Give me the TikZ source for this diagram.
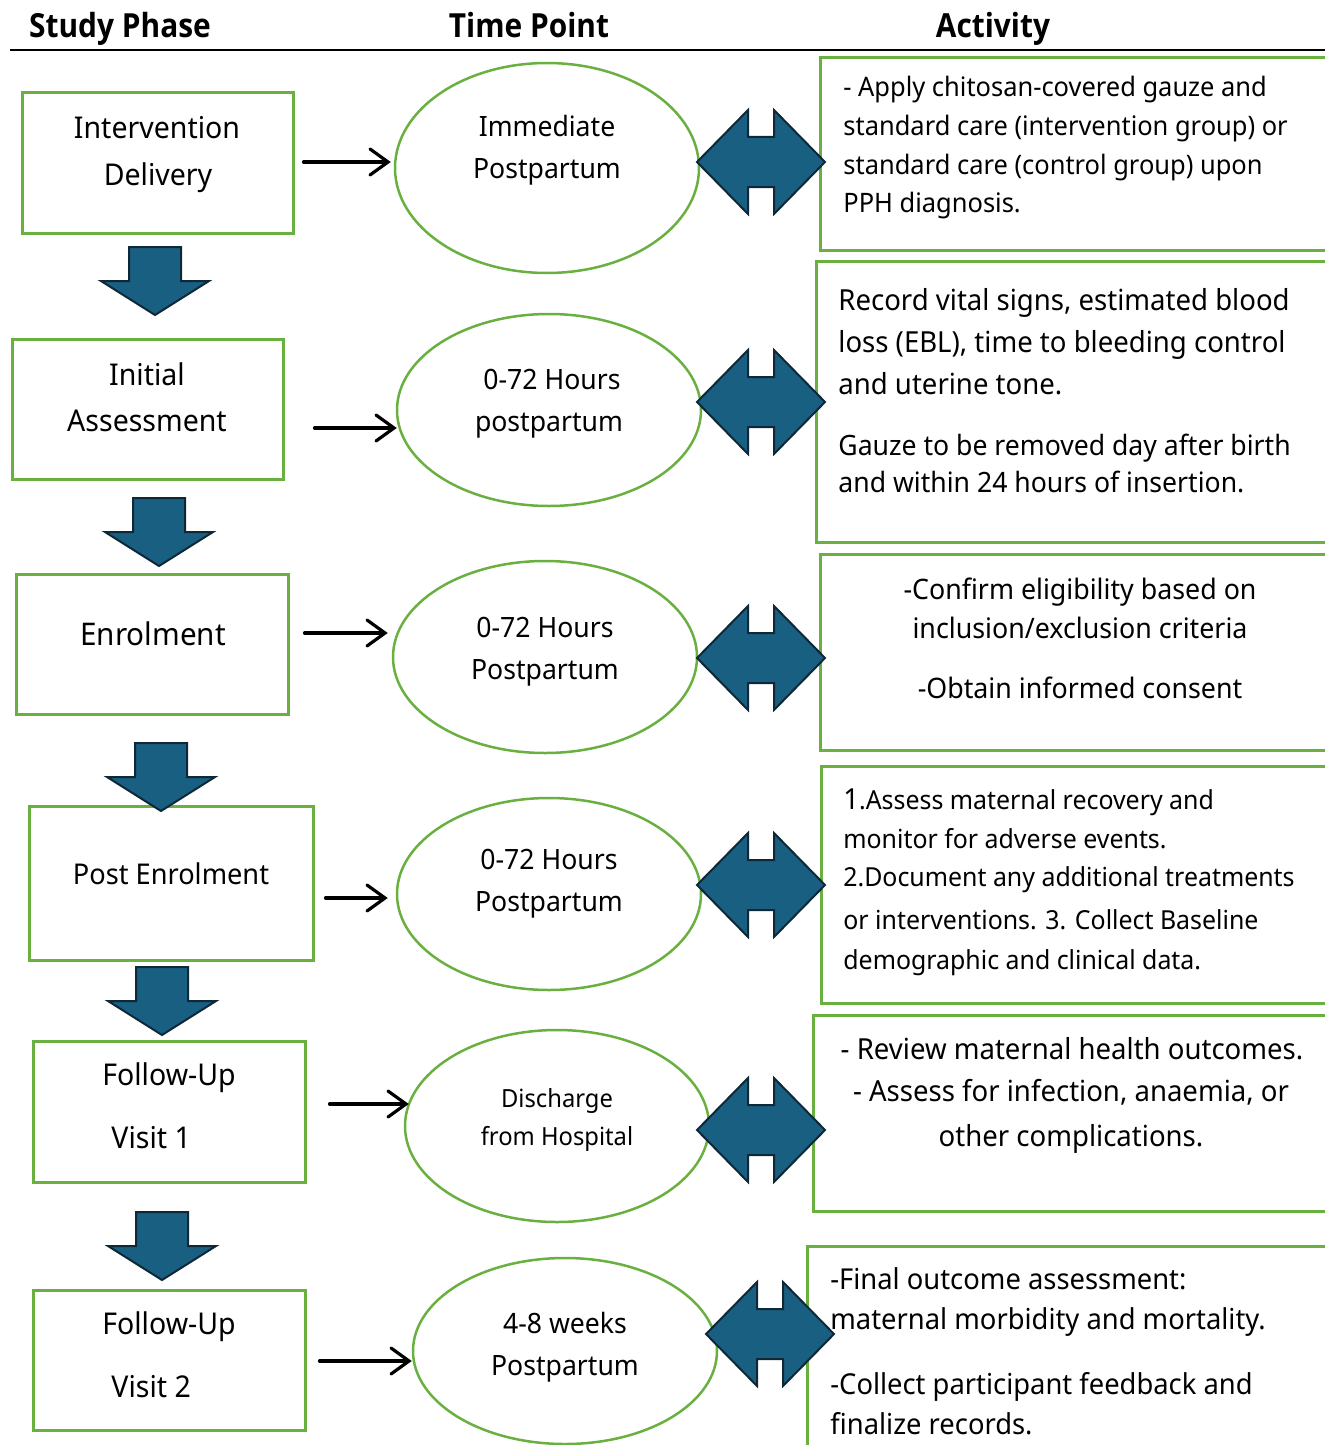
\documentclass[tikz,border=0pt]{standalone}
\usepackage{fontspec}
\setmainfont{Noto Sans}[FakeStretch=0.95]
\newfontfamily\hdrfont{Open Sans}[FakeStretch=0.9]
\usetikzlibrary{shapes.geometric,arrows.meta,calc}
\definecolor{grn}{RGB}{106,176,64}
\definecolor{blu}{RGB}{25,95,130}
\definecolor{bludark}{RGB}{14,40,56}
\newcommand\fsz[1]{\fontsize{#1}{#1}\selectfont}
\begin{document}
\begin{tikzpicture}[x=0.5pt,y=-0.5pt,
  phase/.style={draw=grn,line width=1.5pt,rectangle,inner sep=0pt},
  tp/.style={draw=grn,line width=1.25pt,ellipse,inner sep=0pt,minimum width=152pt},
  actbox/.style={draw=grn,line width=1.5pt},
  txt/.style={inner sep=0pt,anchor=base},
  txtl/.style={inner sep=0pt,anchor=base west},
  hdr/.style={txt,font=\hdrfont\fsz{16.6}\bfseries},
  phtxt/.style={txt,font=\fsz{15}},
  tptxt/.style={txt,font=\fsz{14}},
  conn/.style={-{Straight Barb[length=9pt,width=13pt,line cap=round]},line width=1.6pt,line cap=round},
  dblarrowpic/.pic={\draw[fill=blu,draw=bludark,line width=1pt,line join=miter]
     (-64,0) -- (-13,-52) -- (-13,-25) -- (13,-25) -- (13,-52) -- (64,0)
     -- (13,52) -- (13,25) -- (-13,25) -- (-13,52) -- cycle;},
  downarrowpic/.pic={\draw[fill=blu,draw=bludark,line width=1pt,line join=miter]
     (-26,0) -- (26,0) -- (26,34) -- (54,34) -- (0,68) -- (-54,34) -- (-26,34) -- cycle;}
]
\useasboundingbox (0,0) rectangle (1325,1445);
\clip (0,0) rectangle (1325,1445);

% headers
\node[hdr] (h1) at (120,38) {Study Phase};
\node[hdr] (h2) at (529,38) {Time Point};
\node[hdr] (h3) at (993,38) {Activity};
\draw[line width=1pt] (10,50) -- (1325,50);

% activity boxes
\draw[actbox] (820,58) rectangle (1340,250);
\draw[actbox] (816,261) rectangle (1340,542);
\draw[actbox] (820,554) rectangle (1340,750);
\draw[actbox] (821,766) rectangle (1340,1003);
\draw[actbox] (813,1015) rectangle (1340,1211);
\draw[actbox] (807,1246) rectangle (1340,1460);

% phase boxes
\node[phase,minimum width=135.5pt,minimum height=70pt] (b1) at (157.5,163) {};
\node[phase,minimum width=135.5pt,minimum height=70pt] (b2) at (147.5,409) {};
\node[phase,minimum width=136pt,minimum height=70pt] (b3) at (152,644) {};
\node[phase,minimum width=142pt,minimum height=77pt] (b4) at (171,883) {};
\node[phase,minimum width=136pt,minimum height=70.5pt] (b5) at (169,1111.5) {};
\node[phase,minimum width=136pt,minimum height=70pt] (b6) at (169,1360) {};

% time point ellipses
\node[tp,minimum height=105pt] (e1) at (547,168) {};
\node[tp,minimum height=96pt] (e2) at (549,410) {};
\node[tp,minimum height=96pt] (e3) at (545,657) {};
\node[tp,minimum height=96pt] (e4) at (549,894) {};
\node[tp,minimum height=96pt] (e5) at (557,1126) {};
\node[tp,minimum height=93pt] (e6) at (565,1351) {};

% down arrows
\pic at (155,247) {downarrowpic};
\pic at (159,498) {downarrowpic};
\pic at (161,743) {downarrowpic};
\pic at (162,967) {downarrowpic};
\pic at (162,1212) {downarrowpic};

% double arrows
\pic at (761,162) {dblarrowpic};
\pic at (761,402) {dblarrowpic};
\pic at (761,658) {dblarrowpic};
\pic at (761,885) {dblarrowpic};
\pic at (761,1130) {dblarrowpic};
\pic at (770,1334) {dblarrowpic};

% connectors
\draw[conn] ($(b1.east |- 0,162)+(9,0)$) -- ($(e1.west |- 0,162)+(-3,0)$);
\draw[conn] ($(b2.east |- 0,428)+(30,0)$) -- ($(e2.west |- 0,428)+(1,0)$);
\draw[conn] ($(b3.east |- 0,633)+(15,0)$) -- ($(e3.west |- 0,633)+(-4,0)$);
\draw[conn] ($(b4.east |- 0,898)+(11,0)$) -- ($(e4.west |- 0,898)+(-8,0)$);
\draw[conn] ($(b5.east |- 0,1104)+(23,0)$) -- ($(e5.west |- 0,1104)+(5,0)$);
\draw[conn] ($(b6.east |- 0,1361)+(13,0)$) -- ($(e6.west |- 0,1361)+(0,0)$);

% phase texts
\node[phtxt] (p1a) at (157,139) {Intervention};
\node[phtxt] (p1b) at (158,185) {Delivery};
\node[phtxt] (p2a) at (147,385) {Initial};
\node[phtxt] (p2b) at (147,431) {Assessment};
\node[phtxt,font=\fsz{15.6}] (p3a) at (153,645) {Enrolment};
\node[phtxt,font=\fsz{14.3}] (p4a) at (171,884) {Post Enrolment};
\node[phtxt] (p5a) at (169,1085) {Follow-Up};
\node[phtxt,anchor=base west] (p5b) at (111,1148) {Visit 1};
\node[phtxt] (p6a) at (169,1334) {Follow-Up};
\node[phtxt,anchor=base west] (p6b) at (111,1397) {Visit 2};

% time point texts
\node[tptxt] (t1a) at (547,136) {Immediate};
\node[tptxt] (t1b) at (547,178) {Postpartum};
\node[tptxt] (t2a) at (552,389) {0-72 Hours};
\node[tptxt] (t2b) at (549,431) {postpartum};
\node[tptxt] (t3a) at (545,637) {0-72 Hours};
\node[tptxt] (t3b) at (545,679) {Postpartum};
\node[tptxt] (t4a) at (549,869) {0-72 Hours};
\node[tptxt] (t4b) at (549,911) {Postpartum};
\node[txt,font=\fsz{12.5}] (t5a) at (557,1107) {Discharge};
\node[txt,font=\fsz{12.5}] (t5b) at (557,1145) {from Hospital};
\node[tptxt] (t6a) at (565,1333) {4-8 weeks};
\node[tptxt] (t6b) at (565,1375) {Postpartum};

% activity texts
\begin{scope}[every node/.append style={txtl,font=\fsz{13.4}}]
\node (a1a) at (843,97) {- Apply chitosan-covered gauze and};
\node (a1b) at (843,135.5) {standard care (intervention group) or};
\node (a1c) at (843,174) {standard care (control group) upon};
\node (a1d) at (843,212) {PPH diagnosis.};
\end{scope}
\begin{scope}[every node/.append style={txtl,font=\fsz{14.5}}]
\node (a2a) at (838,310) {Record vital signs, estimated blood};
\node (a2b) at (838,352) {loss (EBL), time to bleeding control};
\node (a2c) at (838,394) {and uterine tone.};
\node[font=\fsz{14}] (a2d) at (838,455) {Gauze to be removed day after birth};
\node[font=\fsz{14}] (a2e) at (838,492) {and within 24 hours of insertion.};
\end{scope}
\begin{scope}[every node/.append style={txt,font=\fsz{14.1}}]
\node (a3a) at (1080,599) {-Confirm eligibility based on};
\node (a3b) at (1080,638) {inclusion/exclusion criteria};
\node (a3c) at (1080,698) {-Obtain informed consent};
\end{scope}
\begin{scope}[every node/.append style={txtl,font=\fsz{13.1}}]
\node (a4a) at (843,809) {{\fsz{14.5}1}.Assess maternal recovery and};
\node (a4b) at (843,848) {monitor for adverse events.};
\node (a4c) at (843,886) {2.Document any additional treatments};
\node (a4d) at (843,929) {or interventions. 3. Collect Baseline};
\node (a4e) at (843,969) {demographic and clinical data.};
\end{scope}
\begin{scope}[every node/.append style={txt,font=\fsz{14.5}}]
\node (a5a) at (1072,1059) {- Review maternal health outcomes.};
\node (a5b) at (1071,1101) {- Assess for infection, anaemia, or};
\node (a5c) at (1071,1146) {other complications.};
\end{scope}
\begin{scope}[every node/.append style={txtl,font=\fsz{14.4}}]
\node (a6a) at (830,1289) {-Final outcome assessment:};
\node (a6b) at (830,1329) {maternal morbidity and mortality.};
\node (a6c) at (830,1394) {-Collect participant feedback and};
\node (a6d) at (830,1434) {finalize records.};
\end{scope}
\end{tikzpicture}
\end{document}
